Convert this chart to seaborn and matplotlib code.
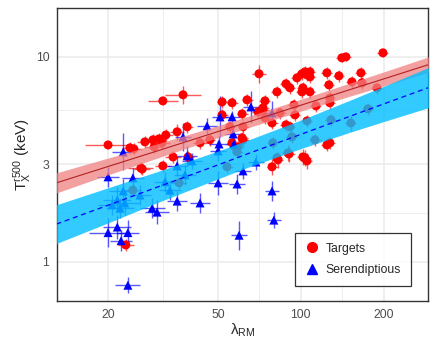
import numpy as np
import pandas as pd
import matplotlib
matplotlib.use("Agg")
import matplotlib.pyplot as plt
import seaborn as sns
from matplotlib.lines import Line2D
from matplotlib.ticker import FixedLocator, FixedFormatter, NullFormatter

# -------------------------------
# Data
# -------------------------------
# Targets
red_lam = [20.0, 31.6, 37.4, 24.0, 24.8, 27.2, 29.1, 29.4, 30.6, 32.4, 31.4, 34.4, 31.6, 26.3, 35.6,
           70.5, 51.8, 63.8, 74.1, 38.7, 61.2, 69.9, 72.9, 81.9, 88.3, 91.3, 96.8, 100.9, 94.4, 95.2,
           84.0, 88.3, 91.3, 61.2, 61.7, 55.3, 46.8, 43.1, 89.8, 81.9, 57.7, 198.4, 140.8, 145.6, 103.5,
           107.9, 124.3, 137.4, 165.1, 126.4, 153.1, 166.5, 101.7, 107.9, 188.7, 127.4, 113.4, 105.2, 112.5, 124.3,
           127.4, 103.5, 78.6, 82.6, 90.6, 101.7, 105.2, 23.2, 26.6, 54.0, 128.5, 151.8, 175.0, 79.2, 92.8,
           58.7, 36.2, 24.6, 56.3, 72.9, 74.1, 78.6, 127.4, 56.3, 59.2, 39.0, 105.2, 107.9, 100.9, 61.7, 51.8]
red_tx = [3.72, 6.10, 6.53, 3.60, 3.56, 3.85, 3.94, 3.64, 3.98, 4.16, 3.81, 3.25, 2.94, 2.87, 4.31,
          8.27, 6.03, 6.17, 6.10, 4.56, 5.27, 5.39, 5.51, 6.75, 7.39, 7.06, 7.90, 8.27, 5.83, 5.21,
          5.33, 4.66, 4.56, 4.03, 3.94, 4.56, 3.94, 3.81, 3.40, 3.22, 3.64, 10.46, 9.89, 10.0, 8.45,
          8.45, 8.36, 8.08, 8.36, 7.30, 7.55, 7.47, 7.06, 6.75, 7.06, 5.97, 5.77, 4.87, 3.94, 3.72,
          3.81, 3.22, 2.91, 3.15, 3.36, 3.25, 3.11, 1.21, 2.84, 2.91, 4.93, 4.76, 5.58, 3.81, 4.07,
          3.44, 2.43, 2.24, 5.97, 5.64, 5.04, 4.76, 6.31, 3.81, 3.64, 3.25, 8.17, 7.99, 6.75, 4.56, 5.21]
# errors in dex
red_xerr = [0.085, 0.055, 0.065, 0.03, 0.03, 0.03, 0.03, 0.03, 0.025, 0.025, 0.03, 0.03, 0.03, 0.045, 0.025,
            0.025, 0.02, 0.02, 0.02, 0.02, 0.02, 0.02, 0.02, 0.02, 0.02, 0.02, 0.02, 0.02, 0.02, 0.02,
            0.02, 0.02, 0.02, 0.02, 0.02, 0.02, 0.02, 0.025, 0.02, 0.02, 0.02, 0.02, 0.02, 0.02, 0.02,
            0.02, 0.02, 0.02, 0.02, 0.02, 0.02, 0.02, 0.02, 0.02, 0.02, 0.02, 0.02, 0.02, 0.02, 0.02,
            0.02, 0.02, 0.02, 0.02, 0.02, 0.02, 0.02, 0.03, 0.03, 0.02, 0.02, 0.02, 0.02, 0.02, 0.02,
            0.02, 0.03, 0.03, 0.02, 0.02, 0.02, 0.02, 0.02, 0.02, 0.02, 0.02, 0.02, 0.02, 0.02, 0.02, 0.02]
red_yerr = [0.02, 0.02, 0.044, 0.03, 0.03, 0.03, 0.03, 0.03, 0.03, 0.03, 0.03, 0.03, 0.03, 0.03, 0.04,
            0.044, 0.03, 0.03, 0.03, 0.03, 0.03, 0.03, 0.03, 0.03, 0.03, 0.03, 0.03, 0.03, 0.03, 0.03,
            0.03, 0.03, 0.03, 0.03, 0.03, 0.03, 0.03, 0.03, 0.04, 0.03, 0.03, 0.02, 0.02, 0.02, 0.03,
            0.03, 0.03, 0.03, 0.03, 0.03, 0.03, 0.03, 0.03, 0.03, 0.03, 0.03, 0.03, 0.03, 0.03, 0.03,
            0.03, 0.04, 0.04, 0.04, 0.04, 0.04, 0.04, 0.03, 0.03, 0.03, 0.03, 0.04, 0.03, 0.03, 0.03,
            0.03, 0.03, 0.03, 0.03, 0.03, 0.03, 0.03, 0.03, 0.03, 0.03, 0.03, 0.03, 0.03, 0.03, 0.03, 0.03]

# Serendipitous
blue_lam = [20.0, 21.6, 22.3, 23.6, 23.6, 20.0, 24.6, 22.7, 21.6, 23.0, 22.1, 28.9, 30.1, 35.6, 32.2,
            35.6, 22.7, 43.1, 50.1, 58.7, 61.7, 59.7, 38.7, 40.3, 50.1, 68.7, 78.6, 79.8, 50.9, 56.3,
            65.9, 45.7, 37.4, 56.8, 50.5, 57.2, 78.6, 33.5, 38.0, 26.1, 20.7]
blue_tx = [1.39, 1.48, 1.27, 1.39, 0.77, 2.60, 2.57, 2.22, 2.01, 1.94, 1.83, 1.83, 1.75, 1.98, 2.46,
           2.94, 3.44, 1.94, 2.43, 2.40, 2.78, 1.35, 3.29, 3.11, 3.48, 3.07, 2.22, 1.60, 5.10, 5.10,
           5.70, 4.61, 4.07, 4.21, 3.76, 3.76, 5.33, 2.24, 2.66, 2.12, 1.90]
blue_xerr = [0.07, 0.05, 0.04, 0.04, 0.045, 0.04, 0.04, 0.05, 0.05, 0.05, 0.05, 0.045, 0.045, 0.035, 0.04,
             0.035, 0.04, 0.036, 0.035, 0.03, 0.03, 0.03, 0.035, 0.035, 0.03, 0.03, 0.025, 0.025, 0.03, 0.03,
             0.03, 0.035, 0.03, 0.03, 0.035, 0.03, 0.025, 0.04, 0.04, 0.04, 0.05]
blue_yerr = [0.07, 0.06, 0.05, 0.06, 0.04, 0.05, 0.05, 0.06, 0.06, 0.06, 0.05, 0.05, 0.06, 0.05, 0.05,
             0.05, 0.09, 0.05, 0.06, 0.05, 0.04, 0.07, 0.05, 0.04, 0.05, 0.04, 0.05, 0.04, 0.10, 0.03,
             0.08, 0.04, 0.07, 0.04, 0.04, 0.04, 0.06, 0.05, 0.05, 0.05, 0.05]

# Fitted relations and their bands
fit_lam = [13, 20, 30, 50, 65, 100, 150, 200, 290]
red_fit = [2.43, 2.92, 3.47, 4.32, 4.83, 5.81, 6.91, 7.81, 9.16]
red_lo = [2.17, 2.66, 3.20, 4.04, 4.53, 5.44, 6.42, 7.22, 8.40]
red_hi = [2.72, 3.21, 3.76, 4.62, 5.15, 6.21, 7.44, 8.45, 9.99]
blue_fit = [1.53, 1.89, 2.31, 2.97, 3.39, 4.19, 5.12, 5.90, 7.08]
blue_lo = [1.23, 1.55, 1.94, 2.54, 2.91, 3.57, 4.28, 4.84, 5.65]
blue_hi = [1.90, 2.30, 2.75, 3.47, 3.95, 4.92, 6.13, 7.19, 8.87]

# -------------------------------
# Build data frame
# -------------------------------
df = pd.DataFrame({
    "lam": red_lam + blue_lam,
    "tx": red_tx + blue_tx,
    "xerr": red_xerr + blue_xerr,
    "yerr": red_yerr + blue_yerr,
    "sample": ["Targets"] * len(red_lam) + ["Serendiptious"] * len(blue_lam),
})

sns.set_style("white")
plt.rcParams["font.family"] = ["Liberation Sans", "DejaVu Sans"]
plt.rcParams["mathtext.fontset"] = "custom"
plt.rcParams["mathtext.rm"] = "Liberation Sans"
plt.rcParams["mathtext.it"] = "Liberation Sans:italic"

colors = {"Targets": "red", "Serendiptious": "blue"}

fig, ax = plt.subplots(figsize=(4.36, 3.49), dpi=100)
fig.subplots_adjust(left=0.1307, right=0.9817, bottom=0.1375, top=0.977)
ax.set_xscale("log")
ax.set_yscale("log")

# error bars
for name in ["Targets", "Serendiptious"]:
    sub = df[df["sample"] == name]
    x, y = sub["lam"].values, sub["tx"].values
    xe, ye = sub["xerr"].values, sub["yerr"].values
    ax.errorbar(x, y,
                xerr=[x * (1 - 10 ** -xe), x * (10 ** xe - 1)],
                yerr=[y * (1 - 10 ** -ye), y * (10 ** ye - 1)],
                fmt="none", ecolor=colors[name], elinewidth=1.0, alpha=0.65, zorder=2)

sns.scatterplot(data=df, x="lam", y="tx", hue="sample", style="sample",
                markers={"Targets": "o", "Serendiptious": "^"}, palette=colors,
                s=42, edgecolor="none", linewidth=0, legend=False, ax=ax, zorder=3)

# fit bands and lines
ax.fill_between(fit_lam, red_lo, red_hi, color="lightcoral", alpha=0.75, lw=0, zorder=4)
ax.plot(fit_lam, red_fit, color="firebrick", lw=0.8, zorder=5)
ax.fill_between(fit_lam, blue_lo, blue_hi, color="#00BFFF", alpha=0.8, lw=0, zorder=4)
ax.plot(fit_lam, blue_fit, color="blue", lw=0.9, dashes=(4, 3), zorder=5)

# axes
ax.set_xlim(13.06, 289)
ax.set_ylim(0.645, 17.3)
ax.xaxis.set_major_locator(FixedLocator([20, 50, 100, 200]))
ax.xaxis.set_major_formatter(FixedFormatter(["20", "50", "100", "200"]))
ax.xaxis.set_minor_locator(FixedLocator([31.62, 70.71, 141.4]))
ax.xaxis.set_minor_formatter(NullFormatter())
ax.yaxis.set_major_locator(FixedLocator([1, 3, 10]))
ax.yaxis.set_major_formatter(FixedFormatter(["1", "3", "10"]))
ax.yaxis.set_minor_locator(FixedLocator([1.732, 5.477]))
ax.yaxis.set_minor_formatter(NullFormatter())

ax.grid(which="major", color="#EBEBEB", lw=1.1, zorder=0)
ax.grid(which="minor", color="#EBEBEB", lw=0.6, zorder=0)
ax.set_axisbelow(True)
ax.tick_params(which="minor", length=0)
ax.tick_params(which="major", length=3.5, width=0.9, color="#333333",
               labelcolor="#4D4D4D", labelsize=8.8, pad=2)
for sp in ax.spines.values():
    sp.set_color("#333333")
    sp.set_linewidth(1.0)

ax.set_xlabel("λ$_{\\mathrm{RM}}$", fontsize=11, labelpad=1)
ax.set_ylabel(r"$\mathrm{T}_{\mathrm{X}}^{\mathrm{r500}}$ (keV)", fontsize=11, labelpad=1)

handles = [Line2D([], [], marker="o", color="red", ls="", markersize=7, label="Targets"),
           Line2D([], [], marker="^", color="blue", ls="", markersize=7, label="Serendiptious")]
leg = ax.legend(handles=handles, loc="lower right", bbox_to_anchor=(0.97, 0.03),
                frameon=True, fancybox=False, edgecolor="black", fontsize=8.8,
                handletextpad=0.5, borderpad=0.8, labelspacing=0.8, handlelength=1.2)
leg.get_frame().set_linewidth(0.9)
leg.set_zorder(10)

plt.savefig("out.png", dpi=100)
